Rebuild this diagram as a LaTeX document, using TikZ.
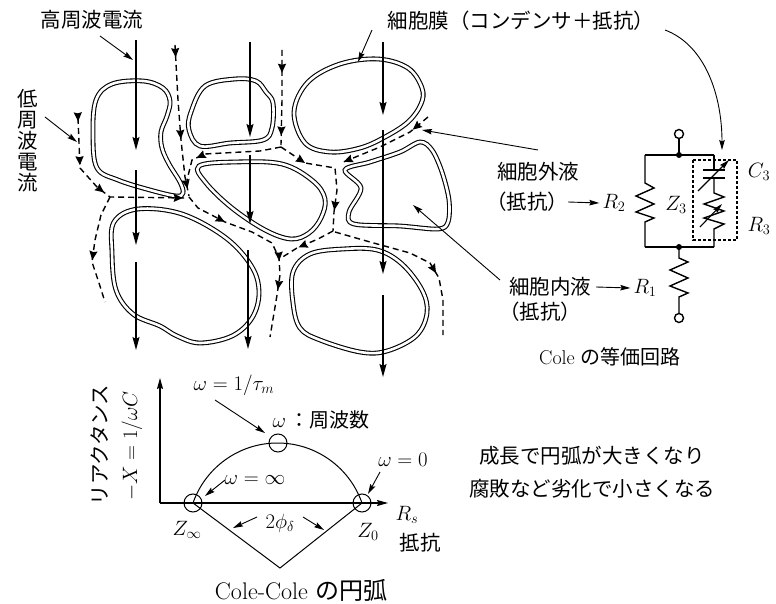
\documentclass[tikz,border=0pt]{standalone}
\usepackage{fontspec}
\newfontfamily\jp{Noto Sans CJK JP}
\usetikzlibrary{arrows.meta,decorations.markings}

\begin{document}
\begin{tikzpicture}[x=1pt,y=-1pt,
  every node/.style={font=\fontsize{20}{22}\selectfont, inner sep=0pt},
  jp/.style={font=\fontsize{20.5}{21}\selectfont\jp},
  membrane/.style={draw, line width=1.1pt, double=white, double distance=2.6pt},
  hf/.style={line width=1.4pt, -{Stealth[length=13pt,width=7pt,inset=2pt]}},
  lf/.style={line width=1.4pt, dash pattern=on 6pt off 4pt},
  tri at/.style={postaction={decorate, decoration={markings,
      mark=at position #1 with {\arrow{Stealth[length=9pt,width=8pt,inset=1pt]}}}}},
  note/.style={line width=0.9pt, -{Stealth[length=10pt,width=5.5pt,inset=1.5pt]}},
  wire/.style={line width=1.4pt},
  boxline/.style={line width=1.1pt, dash pattern=on 3pt off 2pt},
  axis/.style={line width=1.1pt, -{Stealth[length=11pt,width=6pt,inset=1.5pt]}},
  mark circle/.style={line width=1pt},
]
\fill[white] (0,0) rectangle (776,604);
\useasboundingbox (0,0) rectangle (776,604);

% ---------- cells (double membranes) ----------
\draw[membrane] plot[smooth cycle, tension=0.6] coordinates {(96,100) (112,84) (143,81) (163,88) (170,101) (167,116) (161,132) (162,148) (169,164) (180,182) (183,193) (176,196) (150,190) (118,180) (97,168) (93,135)};
\draw[membrane] plot[smooth cycle, tension=0.6] coordinates {(191,112) (205,86) (235,79) (256,81) (266,92) (273,103) (272,128) (263,140) (230,143) (200,146) (189,130)};
\draw[membrane] plot[smooth cycle, tension=0.6] coordinates {(294,112) (308,82) (340,64) (378,59) (408,68) (422,88) (421,104) (408,122) (385,137) (360,148) (330,152) (305,143)};
\draw[membrane] plot[smooth cycle, tension=0.6] coordinates {(199,166) (235,162) (282,164) (313,181) (325,199) (321,218) (309,233) (291,239) (265,230) (232,208) (206,183)};
\draw[membrane] plot[smooth cycle, tension=0.55] coordinates {(345,170) (370,162) (400,152) (420,142) (432,150) (442,172) (449,200) (448,222) (438,229) (400,226) (354,224) (349,212) (361,188)};
\draw[membrane] plot[smooth cycle, tension=0.6] coordinates {(114,222) (138,209) (182,214) (226,238) (252,267) (259,293) (252,318) (232,336) (200,343) (177,336) (160,326) (133,314) (116,290) (112,252)};
\draw[membrane] plot[smooth cycle, tension=0.6] coordinates {(293,272) (310,254) (343,249) (377,250) (402,264) (422,290) (427,313) (416,336) (387,351) (360,352) (320,340) (300,328) (293,303)};

% ---------- low-frequency current (between the cells) ----------
\draw[lf, tri at=0.02, tri at=0.28, tri at=0.5, tri at=0.975] (78,118) -- (80,168) -- (97,187) -- (110,197) -- (187,198);
\draw[lf, tri at=0.6] (110,197) -- (101,215) -- (95,240) -- (92,262) -- (99,283) -- (105,302);
\draw[lf, tri at=0.08, tri at=0.62, tri at=0.95] (175,45) -- (178,100) -- (181,140) -- (185,177) -- (189,196);
\draw[lf, tri at=0.23, tri at=0.6, tri at=0.75] (189,197) -- (198,208) -- (225,222) -- (252,232) -- (272,243) -- (279,258) -- (280,275) -- (277,295) -- (270,337);
\draw[lf, tri at=0.24, tri at=0.9] (282,50) -- (282,100) -- (281,145);
\draw[lf, tri at=0.77] (281,147) -- (260,151) -- (205,154) -- (192,160) -- (187,180);
\draw[lf, tri at=0.235, tri at=0.83] (281,147) -- (305,163) -- (335,168) -- (337,190) -- (334,212) -- (333,231);
\draw[lf, tri at=0.2, tri at=0.97] (428,117) -- (410,132) -- (380,147) -- (341,163);
\draw[lf, tri at=0.65] (333,231) -- (318,239) -- (297,248) -- (281,258);
\draw[lf, tri at=0.64] (335,232) -- (370,242) -- (410,253) -- (430,263) -- (439,278) -- (443,300) -- (443,335);

% ---------- high-frequency current (through the cells) ----------
\draw[hf] (136,40) -- (136,150);
\draw[hf] (136,170) -- (136,245);
\draw[hf] (136,262) -- (136,350);
\draw[hf] (250,42) -- (250,137);
\draw[hf] (250,155) -- (250,224);
\draw[hf] (248,250) -- (248,349);
\draw[hf] (383,42) -- (383,115);
\draw[hf] (383,130) -- (383,274);
\draw[hf] (383,295) -- (383,377);

% ---------- labels of the cell picture ----------
\node[jp] (hflabel) at (92,20) {高周波電流};
\node[jp, align=center] (lflabel) at (28,141) {低\\周\\波\\電\\流};
\node[jp] (memlabel) at (521,21) {細胞膜（コンデンサ＋抵抗）};
\node[jp] (ecflabel) at (538,172) {細胞外液};
\node[jp] (ecfres) at (527,202) {（抵抗）};
\node[jp] (icflabel) at (550,287) {細胞内液};
\node[jp] (icfres) at (540,312) {（抵抗）};

\coordinate (hftail) at (100,36);   \coordinate (hftip) at (133,60);
\coordinate (lftail) at (45,117);   \coordinate (lftip) at (77,142);
\coordinate (memtail) at (372,30);  \coordinate (memtip) at (358,62);
\coordinate (memctail) at (665,30); \coordinate (memctip) at (722,150);
\coordinate (ecftail) at (538,150); \coordinate (ecftip) at (422,130);
\coordinate (icftail) at (500,280); \coordinate (icftip) at (413,205);

\draw[note] (hftail) -- (hftip);
\draw[note] (lftail) -- (lftip);
\draw[note] (memtail) -- (memtip);
\draw[note] (memctail) .. controls (705,45) and (722,95) .. (memctip);
\draw[note] (ecftail) -- (ecftip);
\draw[note] (icftail) -- (icftip);

% ---------- Cole equivalent circuit ----------
\coordinate (tterm) at (679,134);
\coordinate (tjoin) at (679,155);
\coordinate (bjoin) at (679,247);
\coordinate (bterm) at (679,318);
\coordinate (ltop) at (645,155);
\coordinate (rtop) at (714,155);
\coordinate (lbot) at (645,247);
\coordinate (rbot) at (714,247);

\draw[wire] (tterm) -- (tjoin);
\draw[wire] (ltop) -- (rtop);
\draw[wire] (lbot) -- (rbot);
% R2
\draw[wire] (ltop) -- (645,183) -- (654,188) -- (636,196) -- (654,204) -- (636,212) -- (654,218) -- (645,222) -- (lbot);
% C3 (variable)
\draw[wire] (rtop) -- (714,170);
\draw[wire] (703,170) -- (725,170);
\draw[wire] (703,178) -- (725,178);
\draw[note, line width=1.1pt] (698,191) -- (729,160);
% R3 (variable)
\draw[wire] (714,178) -- (714,193) -- (724,197) -- (704,204) -- (724,211) -- (704,218) -- (724,224) -- (714,229) -- (rbot);
\draw[note, line width=1.1pt] (700,227) -- (722,204);
\draw[boxline] (693,160) rectangle (737,240);
% R1
\draw[wire] (bjoin) -- (679,258) -- (688,262) -- (670,270) -- (688,278) -- (670,286) -- (688,293) -- (679,297) -- (bterm);
\fill (tjoin) circle[radius=3];
\fill (bjoin) circle[radius=3];
\draw[wire, fill=white] (tterm) circle[radius=4.5];
\draw[wire, fill=white] (bterm) circle[radius=4.5];

\node (R2) at (614,203) {$R_2$};
\node (Z3) at (676,205) {$Z_3$};
\node (C3) at (759,172) {$C_3$};
\node (R3) at (759,226) {$R_3$};
\node (R1) at (645,288) {$R_1$};
\node (coleeq) at (610,357) {Cole {\jp の等価回路}};

\draw[note] (ecfres.east) -- ([xshift=-3pt]R2.west);
\draw[note] ([xshift=5pt]icflabel.east) -- ([xshift=-3pt]R1.west);

% ---------- Cole-Cole plot ----------
\coordinate (O) at (160,503);
\coordinate (yend) at (160,378);
\coordinate (xend) at (388,503);
\coordinate (Zi) at (193,503);
\coordinate (Zz) at (362,503);
\coordinate (Zt) at (278,443);
\coordinate (V) at (280,568);

\draw[axis] (O) -- (yend);
\draw[axis] (O) -- (xend);
\draw[line width=1pt] plot[domain=160.75:19.25, samples=80] ({277.5+89.5*cos(\x)},{532.5-89.5*sin(\x)});
\draw[line width=1pt] (Zi) -- (V) -- (Zz);
\draw[mark circle] (Zi) circle[radius=9];
\draw[mark circle] (Zz) circle[radius=9];
\draw[mark circle] (Zt) circle[radius=9];

\node (wtau) at (234,385) {$\omega=1/\tau_m$};
\node (wfreq) at (321,420) {$\omega$\,{\jp：周波数}};
\node (winf) at (255,480) {$\omega=\infty$};
\node (wzero) at (403,460) {$\omega=0$};
\node (Zinf) at (187,530) {$Z_\infty$};
\node (Zzero) at (368,532) {$Z_0$};
\node (phi) at (280,523) {$2\phi_\delta$};
\node (Rs) at (407,515) {$R_s$};
\node[jp] (resaxis) at (420,543) {抵抗};
\node[font=\fontsize{24}{26}\selectfont] (colearc) at (301,590) {Cole-Cole {\jp の円弧}};
\node[jp, rotate=90] (reactance) at (100,445) {リアクタンス};
\node[rotate=90] (Xlabel) at (132,446) {$-X=1/\omega C$};

\coordinate (tautail) at (215,400); \coordinate (tautip) at (265,433);
\coordinate (inftail) at (225,480); \coordinate (inftip) at (205,496);
\coordinate (zerotail) at (380,472); \coordinate (zerotip) at (368,494);
\coordinate (philtail) at (257,517); \coordinate (philtip) at (233,528);
\coordinate (phirtail) at (303,517); \coordinate (phirtip) at (324,530);
\draw[note] (tautail) -- (tautip);
\draw[note] (inftail) -- (inftip);
\draw[note] (zerotail) -- (zerotip);
\draw[note] (philtail) -- (philtip);
\draw[note] (phirtail) -- (phirtip);

\node[jp] (growth) at (592,456) {成長で円弧が大きくなり};
\node[jp] (decay) at (592,489) {腐敗など劣化で小さくなる};
\end{tikzpicture}
\end{document}
